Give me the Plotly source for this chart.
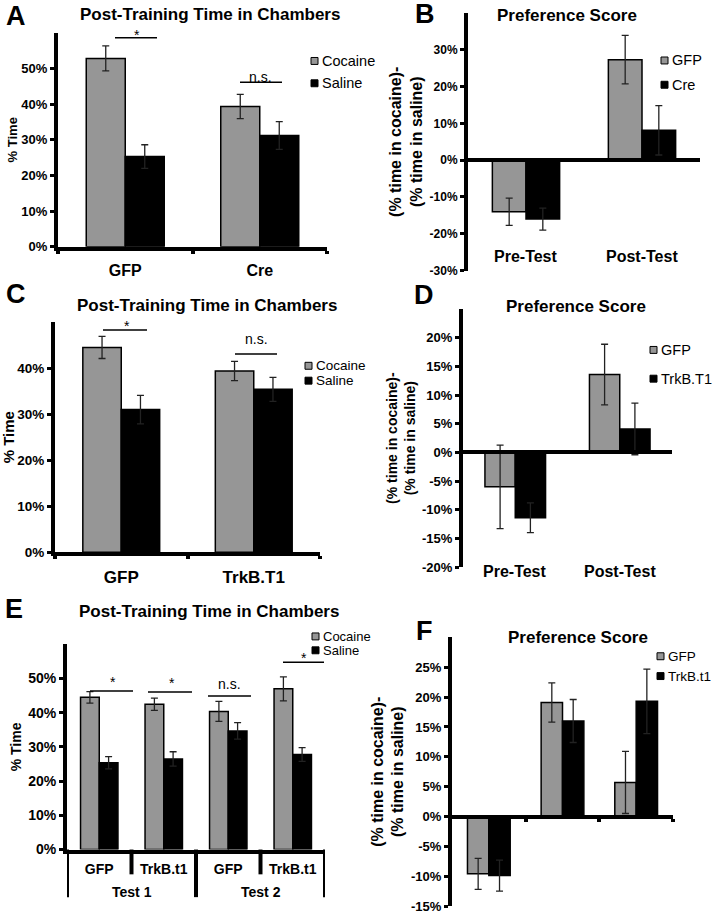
import plotly.graph_objects as go

W, H = 714, 921
FONT = "Liberation Sans, Arial, sans-serif"
GRAY = "rgb(150,150,150)"


def px(x):
    return x / W


def py(y):
    return 1 - y / H


# ---------------- data ----------------
A_groups = ["GFP", "Cre"]
A_cocaine = [52.8, 39.3]
A_cocaine_err = [3.5, 3.4]
A_saline = [25.3, 31.2]
A_saline_err = [3.3, 3.9]
A_ticks = [0, 10, 20, 30, 40, 50]

B_groups = ["Pre-Test", "Post-Test"]
B_gfp = [-14.0, 27.3]
B_gfp_err = [3.7, 6.6]
B_cre = [-16.0, 8.1]
B_cre_err = [3.0, 6.7]
B_ticks = [-30, -20, -10, 0, 10, 20, 30]

C_groups = ["GFP", "TrkB.T1"]
C_cocaine = [44.5, 39.4]
C_cocaine_err = [2.4, 2.1]
C_saline = [31.0, 35.4]
C_saline_err = [3.1, 2.6]
C_ticks = [0, 10, 20, 30, 40]

D_groups = ["Pre-Test", "Post-Test"]
D_gfp = [-6.0, 13.6]
D_gfp_err = [7.3, 5.3]
D_trkb = [-11.4, 4.1]
D_trkb_err = [2.6, 4.5]
D_ticks = [-20, -15, -10, -5, 0, 5, 10, 15, 20]

E_groups = ["GFP", "TrkB.t1", "GFP", "TrkB.t1"]
E_tests = ["Test 1", "Test 2"]
E_cocaine = [44.5, 42.5, 40.4, 47.0]
E_cocaine_err = [1.7, 1.8, 2.9, 3.5]
E_saline = [25.4, 26.5, 34.7, 27.8]
E_saline_err = [1.8, 2.1, 2.4, 2.0]
E_ticks = [0, 10, 20, 30, 40, 50]

F_gfp = [-9.6, 19.1, 5.7]
F_gfp_err = [2.6, 3.3, 5.2]
F_trkb = [-9.9, 16.0, 19.3]
F_trkb_err = [2.6, 3.6, 5.4]
F_ticks = [-15, -10, -5, 0, 5, 10, 15, 20, 25]

PCT_TITLE = "(% time in cocaine)-<br>(% time in saline)"

fig = go.Figure()


def add_pair(xa, ya, n, name1, v1, e1, name2, v2, e2):
    xs = list(range(n))
    fig.add_trace(go.Bar(
        x=xs, y=v1, name=name1, xaxis=xa, yaxis=ya, showlegend=False,
        marker=dict(color=GRAY, line=dict(color="black", width=1.5)),
        error_y=dict(type="data", array=e1, color="#222", thickness=1.3, width=3.5)))
    fig.add_trace(go.Bar(
        x=xs, y=v2, name=name2, xaxis=xa, yaxis=ya, showlegend=False,
        marker=dict(color="black", line=dict(color="black", width=1.5)),
        error_y=dict(type="data", array=e2, color="#222", thickness=1.3, width=3.5)))


add_pair("x", "y", 2, "Cocaine", A_cocaine, A_cocaine_err, "Saline", A_saline, A_saline_err)
add_pair("x2", "y2", 2, "GFP", B_gfp, B_gfp_err, "Cre", B_cre, B_cre_err)
add_pair("x3", "y3", 2, "Cocaine", C_cocaine, C_cocaine_err, "Saline", C_saline, C_saline_err)
add_pair("x4", "y4", 2, "GFP", D_gfp, D_gfp_err, "TrkB.T1", D_trkb, D_trkb_err)
add_pair("x5", "y5", 4, "Cocaine", E_cocaine, E_cocaine_err, "Saline", E_saline, E_saline_err)
add_pair("x6", "y6", 3, "GFP", F_gfp, F_gfp_err, "TrkB.t1", F_trkb, F_trkb_err)


def pct(ticks):
    return [f"{t}%" for t in ticks]


def yax(dom, rng, ticks, anchor, tsize, title, title_size, standoff):
    return dict(domain=[py(dom[0]), py(dom[1])], range=rng, anchor=anchor,
                showline=True, linewidth=4, linecolor="black", showgrid=False, zeroline=False,
                ticks="outside", ticklen=4, tickwidth=3, tickcolor="black",
                tickvals=ticks, ticktext=pct(ticks),
                tickfont=dict(size=tsize, weight="bold", color="black"),
                title=dict(text=title, font=dict(size=title_size, weight="bold", color="black"),
                           standoff=standoff))


def zero_pos(dom, rng):
    y0, y1 = py(dom[0]), py(dom[1])
    return y0 + (0 - rng[0]) / (rng[1] - rng[0]) * (y1 - y0)


A_dom, A_rng = (249, 33), [0, 60]
B_dom, B_rng = (273, 13), [-30, 40]
C_dom, C_rng = (557, 325), [0, 50]
D_dom, D_rng = (572, 312), [-20, 25]
E_dom, E_rng = (857, 650), [0, 60]
F_dom, F_rng = (914, 643), [-15, 30]

fig.update_layout(
    width=W, height=H, margin=dict(l=0, r=0, t=0, b=0),
    paper_bgcolor="white", plot_bgcolor="white",
    font=dict(family=FONT, color="black"),
    barmode="group", bargap=0.42, bargroupgap=0,
    xaxis=dict(domain=[px(58), px(327)], range=[-0.5, 1.5], anchor="y",
               showline=True, linewidth=4, linecolor="black", showgrid=False, zeroline=False,
               tickvals=[0, 1], ticktext=A_groups, ticks="", ticklabelstandoff=6,
               tickfont=dict(size=16, weight="bold", color="black"),
               minor=dict(tickvals=[-0.5, 0.5, 1.5], ticks="outside", ticklen=3,
                          tickwidth=4, tickcolor="black", showgrid=False)),
    yaxis=yax(A_dom, A_rng, A_ticks, "x", 13, "% Time", 13, 2),
    xaxis2=dict(domain=[px(468), px(700)], range=[-0.5, 1.5], anchor="free",
                position=zero_pos(B_dom, B_rng),
                showline=True, linewidth=4, linecolor="black", showgrid=False, zeroline=False,
                showticklabels=False, ticks=""),
    yaxis2=yax(B_dom, B_rng, B_ticks, "x2", 12, PCT_TITLE, 16, 4),
    xaxis3=dict(domain=[px(55), px(320)], range=[-0.5, 1.5], anchor="y3",
                showline=True, linewidth=4, linecolor="black", showgrid=False, zeroline=False,
                tickvals=[0, 1], ticktext=C_groups, ticks="", ticklabelstandoff=6,
                tickfont=dict(size=17, weight="bold", color="black"),
                minor=dict(tickvals=[-0.5, 0.5, 1.5], ticks="outside", ticklen=3,
                           tickwidth=4, tickcolor="black", showgrid=False)),
    yaxis3=yax(C_dom, C_rng, C_ticks, "x3", 13.5, "% Time", 15, 2),
    xaxis4=dict(domain=[px(463), px(672)], range=[-0.5, 1.5], anchor="free",
                position=zero_pos(D_dom, D_rng),
                showline=True, linewidth=4, linecolor="black", showgrid=False, zeroline=False,
                showticklabels=False, ticks=""),
    yaxis4=yax(D_dom, D_rng, D_ticks, "x4", 13, PCT_TITLE, 14, 4),
    xaxis5=dict(domain=[px(67), px(325)], range=[-0.5, 3.5], anchor="y5",
                showline=True, linewidth=4, linecolor="black", showgrid=False, zeroline=False,
                tickvals=[0, 1, 2, 3], ticktext=E_groups, ticks="", ticklabelstandoff=4,
                tickfont=dict(size=14, weight="bold", color="black")),
    yaxis5=yax(E_dom, E_rng, E_ticks, "x5", 14, "% Time", 14, 4),
    xaxis6=dict(domain=[px(452), px(673)], range=[-0.5, 2.5], anchor="free",
                position=zero_pos(F_dom, F_rng),
                showline=True, linewidth=4, linecolor="black", showgrid=False, zeroline=False,
                showticklabels=False, tickvals=[0.5, 1.5, 2.5], ticks="outside", ticklen=3,
                tickwidth=4, tickcolor="black"),
    yaxis6=yax(F_dom, F_rng, F_ticks, "x6", 13, PCT_TITLE, 16, 4),
)

ann = []
shapes = []


def text(x, y, s, size, bold=True, xref="paper", xanchor="center", yanchor="middle"):
    ann.append(dict(x=x, y=y, xref=xref, yref="paper", text=s, showarrow=False,
                    xanchor=xanchor, yanchor=yanchor,
                    font=dict(size=size, weight="bold" if bold else "normal",
                              color="black", family=FONT)))


# panel letters
for letter, x, y in [("A", 16, 16), ("B", 425, 14), ("C", 16, 297),
                     ("D", 424, 298), ("E", 14, 614), ("F", 424, 637)]:
    text(px(x), py(y), letter, 27)

# panel titles
for s, x, y in [("Post-Training Time in Chambers", 210, 15), ("Preference Score", 567, 16),
                ("Post-Training Time in Chambers", 207, 308), ("Preference Score", 576, 309),
                ("Post-Training Time in Chambers", 209, 617), ("Preference Score", 578, 643)]:
    text(px(x), py(y), s, 17)

# category labels for B and D (placed at the bottom of the plot)
for i, g in enumerate(B_groups):
    text(i, py(259), g, 16, xref="x2")
for i, g in enumerate(D_groups):
    text(i, py(577), g, 16, xref="x4")

# E group level labels and dividers
for i, t in enumerate(E_tests):
    text(2 * i + 0.5, py(900), t, 14, xref="x5")
for b, bottom in [(-0.5, 905), (0.5, 882), (1.5, 905), (2.5, 882), (3.5, 905)]:
    shapes.append(dict(type="line", xref="x5", yref="paper", x0=b, x1=b,
                       y0=py(857), y1=py(bottom), line=dict(color="black", width=4)))

# significance markers: line x0, x1, y, label, label x, label top y
for x0, x1, y, label, tx, ty in [
        (115, 157, 38, "*", 137, 25), (240, 282, 83, "n.s.", 260, 68),
        (103, 147, 333, "*", 127, 319), (235, 277, 357, "n.s.", 256, 332),
        (90, 133, 697, "*", 113, 678), (148, 192, 698, "*", 172, 679),
        (208, 251, 702, "n.s.", 229, 680), (283, 324, 668, "*", 304, 654)]:
    shapes.append(dict(type="line", xref="paper", yref="paper", x0=px(x0), x1=px(x1),
                       y0=py(y), y1=py(y), line=dict(color="black", width=1.5)))
    text(px(tx), py(ty), label, 14, bold=False, yanchor="top")

# legends (drawn as swatches + text)
LEG_SIZE = 7
for sx, fsize, entries in [
        (311, 14.5, [("Cocaine", 61.5), ("Saline", 84)]),
        (661, 14.5, [(fig.data[2].name, 61), (fig.data[3].name, 85.5)]),
        (305, 13.5, [("Cocaine", 369), ("Saline", 384)]),
        (650, 14.5, [(fig.data[6].name, 353), (fig.data[7].name, 382)]),
        (312, 13, [("Cocaine", 642), ("Saline", 656)]),
        (657, 13.5, [(fig.data[10].name, 662), (fig.data[11].name, 682)])]:
    for k, (lab, yc) in enumerate(entries):
        fill = GRAY if k == 0 else "black"
        shapes.append(dict(type="rect", xref="paper", yref="paper",
                           x0=px(sx), x1=px(sx + LEG_SIZE),
                           y0=py(yc + LEG_SIZE / 2), y1=py(yc - LEG_SIZE / 2),
                           fillcolor=fill, line=dict(color="black", width=1)))
        text(px(sx + LEG_SIZE + 1.5), py(yc), lab, fsize, bold=False, xanchor="left")

fig.update_layout(annotations=ann, shapes=shapes)

fig.write_html("out.html",
               config={"displayModeBar": False},
               post_script="document.body.style.margin='0';"
                           "document.body.style.overflow='hidden';")
